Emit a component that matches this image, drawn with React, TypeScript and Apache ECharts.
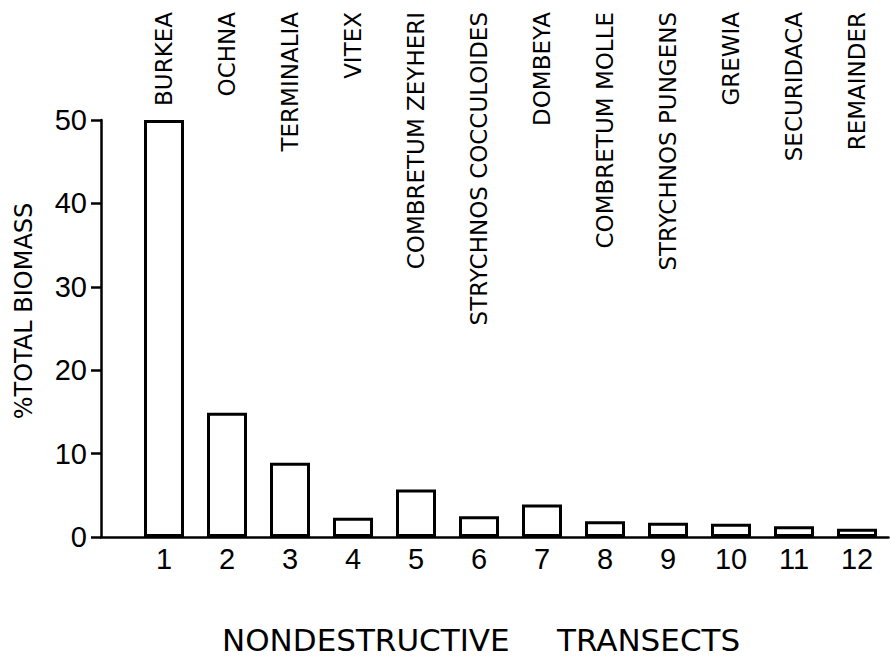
import React, { useEffect, useRef } from "react";
import * as echarts from "echarts";

const transects = [1, 2, 3, 4, 5, 6, 7, 8, 9, 10, 11, 12];
const species = [
  "BURKEA",
  "OCHNA",
  "TERMINALIA",
  "VITEX",
  "COMBRETUM ZEYHERI",
  "STRYCHNOS COCCULOIDES",
  "DOMBEYA",
  "COMBRETUM MOLLE",
  "STRYCHNOS PUNGENS",
  "GREWIA",
  "SECURIDACA",
  "REMAINDER",
];
const biomass = [50, 14.9, 8.9, 2.3, 5.7, 2.5, 3.9, 1.9, 1.7, 1.6, 1.3, 1.0];
const yTicks = [0, 10, 20, 30, 40, 50];
const yTitle = "%TOTAL BIOMASS";
const xTitleA = "NONDESTRUCTIVE";
const xTitleB = "TRANSECTS";

export default function App() {
  const ref = useRef<HTMLDivElement>(null);
  useEffect(() => {
    document.body.style.margin = "0";
    const chart = echarts.init(ref.current!, null, { renderer: "svg" });
    const labelFont = "'DejaVu Sans', sans-serif";
    const numFont = "'Liberation Sans', Arial, sans-serif";
    chart.setOption({
      animation: false,
      backgroundColor: "#ffffff",
      grid: { left: 101, right: 1.5, top: 120, bottom: 123, containLabel: false },
      xAxis: {
        type: "value",
        min: 0,
        max: 12.5,
        interval: 1,
        splitLine: { show: false },
        axisTick: { show: false },
        axisLine: { show: true, onZero: false, lineStyle: { color: "#000", width: 2.5 } },
        axisLabel: {
          color: "#000",
          fontFamily: numFont,
          fontSize: 29,
          margin: 7,
          showMaxLabel: false,
          formatter: (v: number) => (transects.includes(v) ? String(v) : ""),
        },
      },
      yAxis: {
        type: "value",
        min: yTicks[0],
        max: yTicks[yTicks.length - 1],
        interval: 10,
        splitLine: { show: false },
        axisLine: { show: true, lineStyle: { color: "#000", width: 2.5 } },
        axisTick: { show: true, inside: false, length: 10, lineStyle: { color: "#000", width: 2.5 } },
        axisLabel: { color: "#000", fontFamily: numFont, fontSize: 29, margin: 14 },
      },
      series: [
        {
          type: "bar",
          data: transects.map((t, i) => [t, biomass[i]]),
          barWidth: 40,
          itemStyle: { color: "#ffffff", borderColor: "#000000", borderWidth: 3 },
          silent: true,
        },
      ],
    });
    const graphics: any[] = [];
    transects.forEach((t, i) => {
      const px = chart.convertToPixel({ xAxisIndex: 0 }, t) as number;
      graphics.push({
        type: "text",
        x: px,
        y: 12,
        rotation: Math.PI / 2,
        style: {
          text: species[i],
          fontFamily: labelFont,
          fontSize: 23,
          fill: "#000",
          align: "right",
          verticalAlign: "middle",
        },
      });
    });
    graphics.push({
      type: "text",
      x: 24,
      y: 311,
      rotation: Math.PI / 2,
      style: {
        text: yTitle,
        fontFamily: labelFont,
        fontSize: 24,
        fill: "#000",
        align: "center",
        verticalAlign: "middle",
      },
    });
    graphics.push({
      type: "text",
      x: 222,
      y: 640,
      style: { text: xTitleA, fontFamily: labelFont, fontSize: 31, fill: "#000", align: "left", verticalAlign: "middle" },
    });
    graphics.push({
      type: "text",
      x: 557,
      y: 640,
      style: { text: xTitleB, fontFamily: labelFont, fontSize: 31, fill: "#000", align: "left", verticalAlign: "middle" },
    });
    chart.setOption({ graphic: graphics });
    return () => chart.dispose();
  }, []);
  return <div ref={ref} style={{ width: 890, height: 660 }} />;
}
